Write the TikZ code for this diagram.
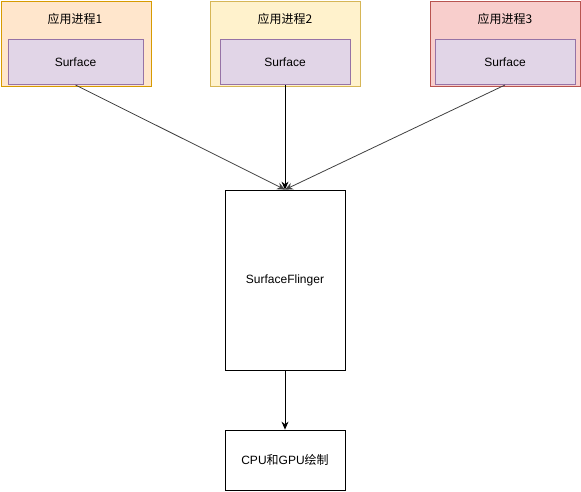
\documentclass[tikz,border=0pt]{standalone}
\usepackage{fontspec}
\setmainfont{Liberation Sans}
\newfontfamily\cjk{Noto Sans CJK SC}
\usetikzlibrary{positioning, arrows.meta}
\definecolor{pOrange}{HTML}{FFE6CC}
\definecolor{pOrangeLine}{HTML}{D79B00}
\definecolor{pYellow}{HTML}{FFF2CC}
\definecolor{pYellowLine}{HTML}{D6B656}
\definecolor{pRed}{HTML}{F8CECC}
\definecolor{pRedLine}{HTML}{B85450}
\definecolor{sPurple}{HTML}{E1D5E7}
\definecolor{sPurpleLine}{HTML}{9673A6}
\tikzset{
  procbox/.style={draw, line width=0.8pt, minimum width=150pt, minimum height=85pt,
    anchor=north west, inner sep=0pt},
  proctitle/.style={font=\fontsize{12}{14}\selectfont\cjk, inner sep=1pt},
  surfbox/.style={draw=sPurpleLine, fill=sPurple, line width=0.8pt, minimum height=45pt,
    anchor=south, inner sep=0pt, font=\fontsize{12}{14}\selectfont},
  flingerbox/.style={draw, line width=0.8pt, fill=white, minimum width=120pt,
    inner sep=0pt, font=\fontsize{12}{14}\selectfont},
  flow/.style={-{Stealth[length=8pt,width=7pt]}, line width=0.8pt},
}

\begin{document}
\begin{tikzpicture}[x=1pt, y=-1pt]
  \useasboundingbox (0,0) rectangle (581,491);
  % application processes
  \node[procbox, fill=pOrange, draw=pOrangeLine] (p1) at (0.5,0.5) {};
  \node[procbox, fill=pYellow, draw=pYellowLine] (p2) at (210,0.5) {};
  \node[procbox, fill=pRed, draw=pRedLine] (p3) at (430,0.5) {};
  \node[proctitle] (t1) at (75,19) {应用进程1};
  \node[proctitle] (t2) at (285,19) {应用进程2};
  \node[proctitle] (t3) at (505,19) {应用进程3};
  \node[surfbox, minimum width=135pt] (s1) at (75.5,85) {Surface};
  \node[surfbox, minimum width=130pt] (s2) at (285,85) {Surface};
  \node[surfbox, minimum width=140pt] (s3) at (505,85) {Surface};
  % compositor and output
  \node[flingerbox, minimum height=180pt] (sf) at (285,280) {SurfaceFlinger};
  \node[flingerbox, minimum height=60pt] (gpu) at (285,460) {CPU{\cjk 和}GPU{\cjk 绘制}};
  \draw[flow, black!75] (s1.south) -- (sf.north);
  \draw[flow] (s2.south) -- (sf.north);
  \draw[flow, black!75] (s3.south) -- (sf.north);
  \draw[flow] (sf.south) -- (gpu.north);
\end{tikzpicture}
\end{document}
